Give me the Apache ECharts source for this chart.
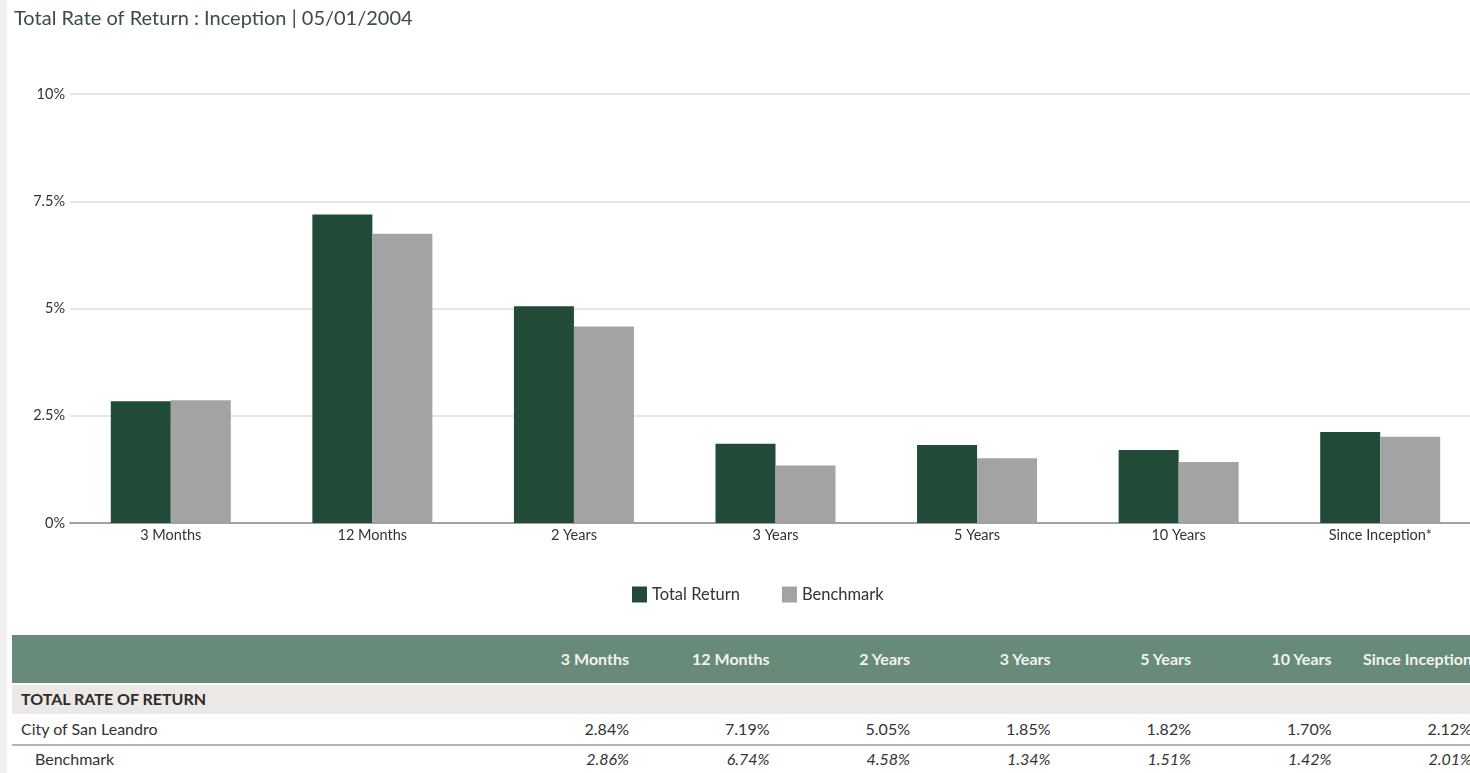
<!DOCTYPE html>
<html>
<head>
<meta charset="utf-8">
<script src="https://cdn.jsdelivr.net/npm/echarts@6/dist/echarts.min.js"></script>
<style>
  html, body { margin:0; padding:0; width:1470px; height:773px; overflow:hidden; background:#fff; font-family: Lato, "Open Sans", sans-serif; }
  #strip { position:absolute; left:0; top:0; width:7px; height:773px; background:#f0f0f0; }
  #chart { position:absolute; left:0; top:0; width:1481px; height:620px; }
  #table { position:absolute; left:12px; top:635px; width:1470px; height:140px; }
  .row { position:absolute; left:0; width:1470px; }
  .cell { position:absolute; white-space:nowrap; font-size:16px; }
</style>
</head>
<body>
<div id="strip"></div>
<div id="chart"></div>
<div id="table"></div>
<script>
const categories = ["3 Months", "12 Months", "2 Years", "3 Years", "5 Years", "10 Years", "Since Inception*"];
const tableHeaders = ["3 Months", "12 Months", "2 Years", "3 Years", "5 Years", "10 Years", "Since Inception"];
const totalReturn = [2.84, 7.19, 5.05, 1.85, 1.82, 1.70, 2.12];
const benchmark = [2.86, 6.74, 4.58, 1.34, 1.51, 1.42, 2.01];
const seriesNames = ["Total Return", "Benchmark"];
const rowLabels = ["City of San Leandro", "Benchmark"];
const sectionLabel = "TOTAL RATE OF RETURN";
const titleText = "Total Rate of Return : Inception | 05/01/2004";
const yTickLabels = {0: "0%", 2.5: "2.5%", 5: "5%", 7.5: "7.5%", 10: "10%"};

const chart = echarts.init(document.getElementById('chart'));
chart.setOption({
  animation: false,
  title: {
    text: titleText, left: 9, top: 4,
    textStyle: { fontFamily: 'Lato', fontWeight: 'normal', fontSize: 20, color: '#3b4d48' }
  },
  legend: {
    data: seriesNames, left: 627, top: 581, itemWidth: 15, itemHeight: 16, itemGap: 42,
    icon: 'rect',
    textStyle: { fontFamily: 'Lato', fontSize: 16.5, color: '#333', padding: [0, 0, 0, 0] }
  },
  grid: { left: 70, right: 0, top: 94, bottom: 97 },
  xAxis: {
    type: 'category', data: categories,
    axisLine: { lineStyle: { color: '#8a8a8a', width: 1.5 } },
    axisTick: { show: false },
    axisLabel: { fontFamily: 'Lato', fontSize: 14.5, color: '#333', margin: 5 }
  },
  yAxis: {
    type: 'value', min: 0, max: 10, interval: 2.5,
    axisLabel: { fontFamily: 'Lato', fontSize: 14.5, color: '#333', margin: 5,
      formatter: v => yTickLabels[v] !== undefined ? yTickLabels[v] : v + '%' },
    splitLine: { lineStyle: { color: '#e6e6e6', width: 2 } },
    axisLine: { show: false }, axisTick: { show: false }
  },
  series: [
    { name: seriesNames[0], type: 'bar', data: totalReturn, barWidth: 60, barGap: '0%',
      itemStyle: { color: '#214a37' } },
    { name: seriesNames[1], type: 'bar', data: benchmark, barWidth: 60,
      itemStyle: { color: '#a3a3a3' } }
  ]
});

// table
const t = document.getElementById('table');
function addRow(top, height, bg) {
  const r = document.createElement('div');
  r.className = 'row';
  r.style.top = top + 'px'; r.style.height = height + 'px';
  if (bg) r.style.background = bg;
  t.appendChild(r);
  return r;
}
function addCell(row, text, x, align, style) {
  const c = document.createElement('div');
  c.className = 'cell';
  c.textContent = text;
  if (align === 'right') { c.style.right = (1470 - x) + 'px'; } else { c.style.left = x + 'px'; }
  Object.assign(c.style, style || {});
  row.appendChild(c);
}
const colRight = i => 617 + i * 140.5;
const header = addRow(0, 48, '#678b78');
tableHeaders.forEach((h, i) => addCell(header, h, colRight(i), 'right',
  { top: '14px', fontWeight: 'bold', color: '#f2f2f2' }));
const section = addRow(50, 29, '#ebe8e5');
addCell(section, sectionLabel, 9, 'left', { top: '4px', fontWeight: 'bold', color: '#2b2b2b' });
const r1 = addRow(80, 29, null);
r1.style.borderBottom = '2px solid #b5b5b5';
addCell(r1, rowLabels[0], 9, 'left', { top: '4px', color: '#333' });
totalReturn.forEach((v, i) => addCell(r1, v.toFixed(2) + '%', colRight(i), 'right', { top: '4px', color: '#333' }));
const r2 = addRow(111, 29, null);
addCell(r2, rowLabels[1], 23, 'left', { top: '3px', color: '#333' });
benchmark.forEach((v, i) => addCell(r2, v.toFixed(2) + '%', colRight(i), 'right', { top: '3px', color: '#333', fontStyle: 'italic' }));
</script>
</body>
</html>
